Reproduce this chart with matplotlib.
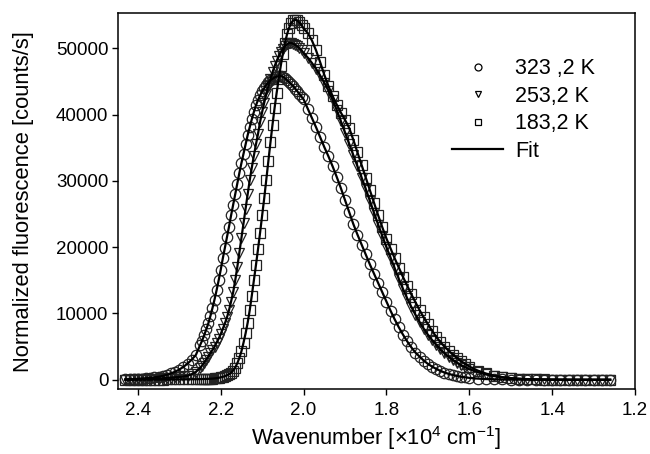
import matplotlib
matplotlib.use("Agg")
import matplotlib.pyplot as plt
from matplotlib.lines import Line2D

plt.rcParams['font.family'] = ['Liberation Sans', 'DejaVu Sans']
plt.rcParams['mathtext.default'] = 'regular'

# wavenumber grid [x10^4 cm-1], shared by all three spectra
wavenumber = [2.43, 2.42, 2.41, 2.40, 2.39, 2.38, 2.37, 2.36, 2.35, 2.34,
              2.33, 2.32, 2.31, 2.30, 2.29, 2.28, 2.27, 2.26,
              2.25, 2.245, 2.24, 2.235, 2.23, 2.225, 2.22, 2.215, 2.21, 2.205,
              2.20, 2.195, 2.19, 2.185, 2.18, 2.175, 2.17, 2.165, 2.16, 2.155,
              2.15, 2.145, 2.14, 2.135, 2.13, 2.125, 2.12, 2.115, 2.11, 2.105,
              2.10, 2.095, 2.09, 2.085, 2.08, 2.075, 2.07, 2.065, 2.06, 2.055,
              2.05, 2.045, 2.04, 2.035, 2.03, 2.025, 2.02, 2.015, 2.01, 2.005,
              2.00,
              1.99, 1.98, 1.97, 1.96, 1.95, 1.94, 1.93, 1.92, 1.91, 1.90,
              1.89, 1.88, 1.87, 1.86, 1.85, 1.84, 1.83, 1.82, 1.81, 1.80,
              1.79, 1.78, 1.77, 1.76, 1.75, 1.74, 1.73, 1.72, 1.71, 1.70,
              1.69, 1.68, 1.67, 1.66, 1.65, 1.64, 1.63, 1.62, 1.61, 1.60,
              1.58, 1.56, 1.54, 1.52, 1.50, 1.48, 1.46, 1.44, 1.42, 1.40,
              1.38, 1.36, 1.34, 1.32, 1.30, 1.28, 1.26]

# 323,2 K (circles)
fl_323 = [50, 80, 110, 150, 190, 240, 300, 370, 460, 580,
          750, 960, 1220, 1550, 1950, 2450, 3050, 3750,
          5200, 5900, 6700, 7600, 8500, 9600, 10800, 12100, 13500, 15000,
          16600, 18300, 19900, 21500, 23100, 24800, 26400, 28000, 29600, 31200,
          32700, 34100, 35500, 36900, 38100, 39300, 40400, 41400, 42200, 42900,
          43500, 44000, 44500, 44900, 45200, 45400, 45600, 45750, 45800, 45800,
          45700, 45500, 45200, 44900, 44600, 44300, 43900, 43500, 43100, 42700,
          42300,
          40900, 39500, 38100, 36600, 35100, 33700, 32200, 30600, 28900, 27100,
          25300, 23500, 21900, 20400, 18900, 17400, 16000, 14600, 13200, 11800,
          10400, 9100, 7900, 6800, 5800, 4900, 4100, 3500, 2900, 2400,
          2000, 1650, 1350, 1100, 900, 720, 580, 460, 370, 290,
          180, 110, 70, 45, 30, 20, 15, 10, 10, 5,
          5, 0, 0, 0, 0, 0, 0]

# 253,2 K (triangles)
fl_253 = [30, 40, 50, 60, 70, 90, 110, 140, 180, 230,
          290, 330, 380, 430, 500, 610, 850, 1200,
          1750, 2150, 2600, 3050, 3500, 4000, 4500, 5000, 5600, 6200,
          6900, 7700, 8500, 9400, 10500, 11800, 13200, 15000, 17000, 19200,
          21400, 23600, 25800, 28000, 30100, 32000, 33800, 35500, 37100, 38900,
          40400, 41800, 43100, 44300, 45400, 46400, 47300, 48100, 48800, 49400,
          49900, 50300, 50600, 50800, 50800, 50700, 50500, 50300, 50000, 49700,
          49300,
          48600, 47800, 46900, 45900, 44800, 43600, 42200, 40700, 39000, 37300,
          35600, 33900, 32200, 30500, 28800, 27000, 25200, 23400, 21700, 20000,
          18400, 16800, 15200, 13700, 12300, 11000, 9800, 8700, 7700, 6800,
          6000, 5300, 4600, 4000, 3500, 3000, 2600, 2200, 1900, 1600,
          1150, 800, 550, 370, 250, 160, 100, 70, 50, 30,
          20, 10, 10, 5, 0, 0, 0]

# 183,2 K (squares)
fl_183 = [10, 10, 15, 15, 20, 20, 25, 30, 35, 40,
          45, 50, 55, 60, 65, 70, 80, 90,
          100, 110, 120, 130, 145, 160, 180, 210, 250, 300,
          370, 450, 550, 680, 850, 1080, 1400, 1850, 2500, 3300,
          4300, 5600, 7000, 8600, 10500, 12700, 15000, 17300, 19700, 22200,
          24800, 27400, 30200, 33000, 35800, 38500, 41000, 43300, 45400, 47400,
          49200, 50800, 52100, 53100, 53800, 54200, 54300, 54200, 53900, 53500,
          53000,
          52300, 51200, 49700, 47900, 46000, 44300, 42800, 41500, 40300, 39200,
          38000, 36200, 34300, 32400, 30500, 28600, 26700, 24800, 23000, 21300,
          19800, 18300, 16900, 15500, 14200, 12900, 11700, 10500, 9400, 8400,
          7400, 6500, 5700, 5000, 4400, 3800, 3300, 2800, 2400, 2000,
          1400, 950, 620, 400, 250, 150, 90, 60, 40, 25,
          15, 10, 5, 0, 0, 0, 0]

labels = ['323 ,2 K', '253,2 K', '183,2 K', 'Fit']
markers = ['o', 'v', 's']
sizes = [7.5, 7.5, 6.5]

fig = plt.figure(figsize=(6.5, 4.54), dpi=100)
ax = fig.add_axes([0.1815, 0.143, 0.7955, 0.828])

for y, m, s in zip([fl_323, fl_253, fl_183], markers, sizes):
    ax.plot(wavenumber, y, ls='none', marker=m, ms=s, mfc='none',
            mec='#222222', mew=0.9, zorder=2)
    ax.plot(wavenumber, y, color='black', lw=1.6, zorder=3)

ax.set_xlim(2.448, 1.2)
ax.set_ylim(-1400, 55300)
ax.set_xticks([2.4, 2.2, 2.0, 1.8, 1.6, 1.4, 1.2])
ax.set_xticklabels(['2.4', '2.2', '2.0', '1.8', '1.6', '1.4', '1.2'])
ax.set_yticks([0, 10000, 20000, 30000, 40000, 50000])
ax.tick_params(direction='out', length=4, width=1, labelsize=13.5, pad=3,
               top=False, right=False)
ax.tick_params(axis='x', pad=5)
for sp in ax.spines.values():
    sp.set_linewidth(1.1)

ax.set_xlabel(r'Wavenumber [×10$^{4}$ cm$^{-1}$]', fontsize=15.8, labelpad=4)
ax.set_ylabel('Normalized fluorescence [counts/s]', fontsize=15.8, labelpad=16)

# legend with small markers
handles = [Line2D([], [], ls='none', marker=m, ms=5, mfc='none', mec='black', mew=0.9)
           for m in markers]
handles.append(Line2D([], [], color='black', lw=1.6))
ax.legend(handles, labels, loc='upper left', bbox_to_anchor=(0.646, 0.88),
          frameon=False, fontsize=15.5, borderpad=0, borderaxespad=0,
          handlelength=2.37, handletextpad=0.56, labelspacing=0.3)

plt.savefig('out.png', dpi=100)
